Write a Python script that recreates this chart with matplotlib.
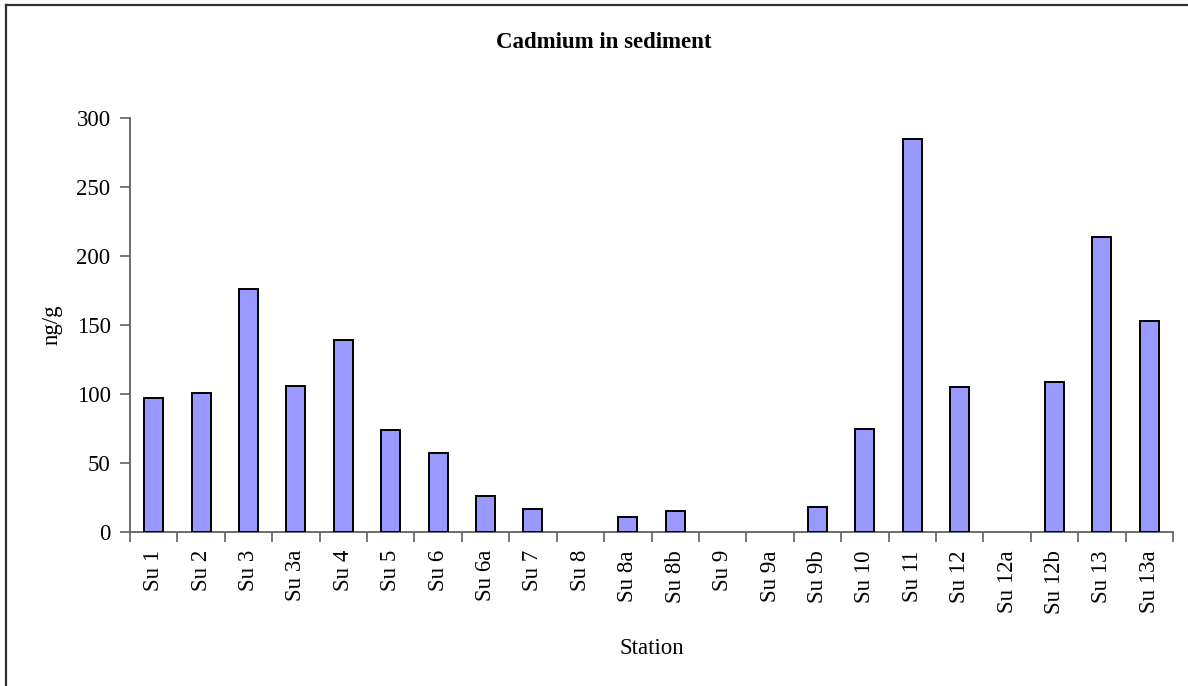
import matplotlib
matplotlib.use("Agg")
import matplotlib.pyplot as plt
from matplotlib.lines import Line2D
import numpy as np

stations = ["Su 1", "Su 2", "Su 3", "Su 3a", "Su 4", "Su 5", "Su 6", "Su 6a",
            "Su 7", "Su 8", "Su 8a", "Su 8b", "Su 9", "Su 9a", "Su 9b", "Su 10",
            "Su 11", "Su 12", "Su 12a", "Su 12b", "Su 13", "Su 13a"]
cadmium = [97, 101, 176, 106, 139, 74, 57, 26,
           17, 0, 11, 15, 0, 0, 18, 75,
           285, 105, 0, 109, 214, 153]
y_ticks = [0, 50, 100, 150, 200, 250, 300]

plt.rcParams["font.family"] = ["Liberation Serif", "DejaVu Serif"]
FS = 16.5

fig = plt.figure(figsize=(11.88, 6.86), dpi=100)
ax = fig.add_axes([130 / 1188, 1 - 532 / 686, (1173 - 130) / 1188, (532 - 118) / 686])

x = np.arange(len(stations))
edges = ["black" if v > 0 else "none" for v in cadmium]
ax.bar(x, cadmium, width=0.4, color="#9999FF", edgecolor=edges, linewidth=1.4, zorder=3)

ax.set_xlim(-0.5, len(stations) - 0.5)
ax.set_ylim(0, 300)
ax.set_yticks(y_ticks)
ax.set_yticklabels([str(v) for v in y_ticks], fontsize=FS)

# category boundaries carry the tick marks, centers carry the labels
ax.set_xticks(np.arange(len(stations) + 1) - 0.5)
ax.set_xticklabels([])
ax.set_xticks(x, minor=True)
ax.set_xticklabels(stations, minor=True, rotation=90, fontsize=FS, va="top")
ax.tick_params(axis="x", which="major", length=7, width=1.2, color="#606060", direction="out")
ax.tick_params(axis="x", which="minor", length=0, pad=13)
ax.tick_params(axis="y", length=7, width=1.2, color="#606060", direction="out", pad=7)

for side in ("top", "right"):
    ax.spines[side].set_visible(False)
for side in ("left", "bottom"):
    ax.spines[side].set_color("#606060")
    ax.spines[side].set_linewidth(1.3)

ax.set_xlabel("Station", fontsize=FS, labelpad=17)
ax.set_ylabel("ng/g", fontsize=FS, labelpad=10)
fig.text(604 / 1188, 1 - 42 / 686, "Cadmium in sediment", ha="center", va="center",
         fontsize=FS, fontweight="bold")

# outer chart frame (left and top edges)
fig.add_artist(Line2D([5.5 / 1188, 5.5 / 1188], [0, 1 - 5 / 686], transform=fig.transFigure,
                      color="#303030", linewidth=1.6))
fig.add_artist(Line2D([5.5 / 1188, 1], [1 - 5 / 686, 1 - 5 / 686], transform=fig.transFigure,
                      color="#303030", linewidth=1.6))

fig.savefig("out.png", dpi=100, facecolor="white")
